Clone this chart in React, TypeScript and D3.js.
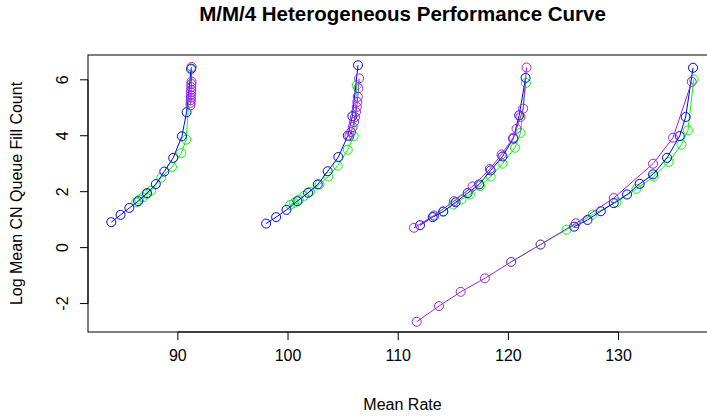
import React from 'react'
import * as d3 from 'd3'

// curves: [mean rate, log mean CN queue fill count]
const blue1 = [[83.96,0.91],[84.8,1.17],[85.6,1.42],[86.4,1.66],[87.2,1.95],[88.0,2.27],[88.77,2.72],[89.58,3.21],[90.37,3.98],[90.79,4.84],[91.21,6.4]]
const green1 = [[86.23,1.62],[86.5,1.72],[86.84,1.8],[87.2,1.92],[87.59,2.04],[88.5,2.5],[89.47,2.88],[90.31,3.38],[90.76,3.86],[91.19,6.37]]
const purple1 = [[91.15,5.09],[91.16,5.18],[91.17,5.27],[91.18,5.36],[91.19,5.45],[91.2,5.55],[91.21,5.64],[91.22,5.74],[91.23,5.85],[91.24,5.94],[91.25,6.46]]

const blue2 = [[98.01,0.86],[98.92,1.09],[99.86,1.35],[100.85,1.66],[101.82,1.96],[102.7,2.26],[103.6,2.73],[104.57,3.24],[105.42,4.0],[105.84,4.7],[106.35,6.52]]
const green2 = [[100.19,1.53],[100.55,1.6],[100.98,1.71],[101.46,1.85],[102.0,2.0],[102.85,2.26],[103.66,2.54],[104.51,2.93],[105.42,3.5],[105.96,3.98],[106.24,5.81]]
const purple2 = [[105.57,3.98],[105.72,4.13],[105.87,4.31],[105.99,4.49],[106.08,4.67],[106.17,4.85],[106.24,5.03],[106.29,5.21],[106.33,5.39],[106.39,5.7],[106.45,6.05]]

const blue3 = [[111.98,0.8],[113.13,1.09],[114.09,1.29],[115.21,1.62],[116.3,1.95],[117.35,2.26],[118.39,2.76],[119.47,3.26],[120.44,3.9],[120.98,4.73],[121.56,6.07]]
const green3 = [[113.28,1.12],[114.09,1.29],[115.0,1.54],[115.75,1.72],[116.51,1.9],[117.42,2.2],[118.39,2.54],[119.47,3.0],[120.59,3.57],[121.1,4.1],[121.59,5.89]]
const purple3 = [[111.43,0.71],[113.25,1.15],[115.06,1.66],[116.75,2.19],[118.32,2.81],[119.38,3.33],[120.44,3.93],[120.74,4.25],[121.1,4.67],[121.34,4.97],[121.65,6.44]]

const blue4 = [[125.97,0.75],[127.18,0.99],[128.39,1.3],[129.56,1.59],[130.77,1.9],[131.92,2.28],[133.13,2.62],[134.4,3.21],[135.55,3.99],[136.09,4.67],[136.76,6.43]]
const green4 = [[120.25,-0.51],[122.92,0.11],[125.28,0.64],[127.63,1.18],[129.8,1.62],[131.62,2.1],[133.19,2.54],[134.55,3.06],[135.7,3.68],[136.3,4.19],[136.82,6.01]]
const purple4 = [[111.68,-2.65],[113.7,-2.09],[115.67,-1.58],[117.87,-1.1],[120.25,-0.51],[122.92,0.11],[126.12,0.87],[129.56,1.77],[133.13,3.0],[134.94,3.93],[136.64,5.93]]

const xTicks = [90, 100, 110, 120, 130]
const yTicks = [-2, 0, 2, 4, 6]

const curves = [
  { pts: green1, col: '#00FF00' }, { pts: green2, col: '#00FF00' }, { pts: green3, col: '#00FF00' }, { pts: green4, col: '#00FF00' },
  { pts: blue1, col: '#0000FF' }, { pts: blue2, col: '#0000FF' }, { pts: blue3, col: '#0000FF' }, { pts: blue4, col: '#0000FF' },
  { pts: purple1, col: '#A020F0' }, { pts: purple2, col: '#A020F0' }, { pts: purple3, col: '#A020F0' }, { pts: purple4, col: '#A020F0' },
]

const W = 707, H = 417
const L = 88, R = 717, T = 55, B = 332
const FONT = '"Liberation Sans", Arial, Helvetica, sans-serif'

// R style: pad the data range by 4% each side
const pad = (ext) => { const d = (ext[1] - ext[0]) * 0.04; return [ext[0] - d, ext[1] + d] }

export default function App() {
  const all = curves.flatMap(c => c.pts)
  const x = d3.scaleLinear().domain(pad(d3.extent(all, d => d[0]))).range([L, R])
  const y = d3.scaleLinear().domain(pad(d3.extent(all, d => d[1]))).range([B, T])
  const line = d3.line().x(d => x(d[0])).y(d => y(d[1]))

  return (
    <svg width={W} height={H} style={{ position: 'absolute', left: 0, top: 0, background: '#fff' }} fontFamily={FONT}>
      <rect x={0} y={0} width={W} height={H} fill="#fff" />
      {curves.map((c, i) => (
        <g key={i} stroke={c.col} fill="none" strokeWidth={1}>
          <path d={line(c.pts)} />
          {c.pts.map((p, j) => <circle key={j} cx={x(p[0])} cy={y(p[1])} r={4.5} />)}
        </g>
      ))}
      <rect x={L} y={T} width={R - L} height={B - T} fill="none" stroke="#000" strokeWidth={1} />
      {/* x axis */}
      <line x1={x(xTicks[0])} x2={x(xTicks[xTicks.length - 1])} y1={B} y2={B} stroke="#000" />
      {xTicks.map(t => (
        <g key={t}>
          <line x1={x(t)} x2={x(t)} y1={B} y2={B + 8} stroke="#000" />
          <text x={x(t)} y={B + 29} textAnchor="middle" fontSize={16}>{t}</text>
        </g>
      ))}
      {/* y axis */}
      <line x1={L} x2={L} y1={y(yTicks[0])} y2={y(yTicks[yTicks.length - 1])} stroke="#000" />
      {yTicks.map(t => (
        <g key={t}>
          <line x1={L - 8} x2={L} y1={y(t)} y2={y(t)} stroke="#000" />
          <text transform={`translate(${L - 20},${y(t)}) rotate(-90)`} textAnchor="middle" fontSize={16}>{t}</text>
        </g>
      ))}
      <text x={(L + R) / 2} y={21} textAnchor="middle" fontSize={20.5} fontWeight="bold">M/M/4 Heterogeneous Performance Curve</text>
      <text x={(L + R) / 2} y={410} textAnchor="middle" fontSize={16}>Mean Rate</text>
      <text transform={`translate(22,${(T + B) / 2}) rotate(-90)`} textAnchor="middle" fontSize={16}>Log Mean CN Queue Fill Count</text>
    </svg>
  )
}
